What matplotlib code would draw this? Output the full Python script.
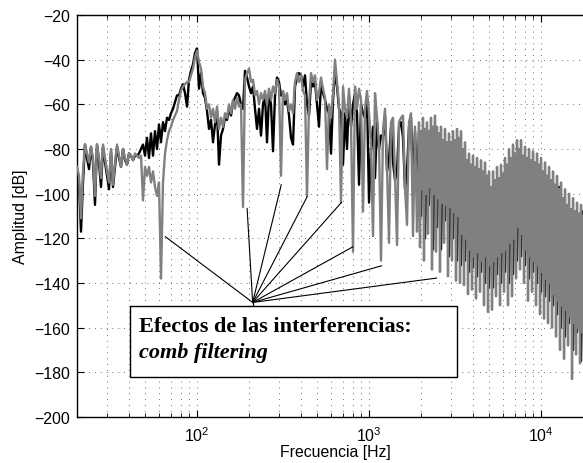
import numpy as np
import matplotlib
matplotlib.use('Agg')
import matplotlib.pyplot as plt
from matplotlib.patches import Rectangle
from matplotlib.ticker import LogLocator, NullFormatter

plt.rcParams['font.family'] = ['Liberation Sans', 'DejaVu Sans']
plt.rcParams['mathtext.fontset'] = 'custom'
plt.rcParams['mathtext.rm'] = 'Liberation Sans'

# frequency grids of the spectra (Hz), log-spaced like the measurement bins;
# the grey one is sampled twice as finely above ~1.9 kHz where it gets dense
black_freq = np.geomspace(20, 17500, 254)
grey_freq = np.concatenate([np.geomspace(20, 1896, 171), np.geomspace(1921, 17500, 166)])

# grey spectrum (dB)
grey_db = [
    -88, -92, -111, -90, -78, -82, -86, -79, -84, -101,
    -78, -84, -93, -78, -84, -90, -95, -80, -96, -86,
    -78, -83, -88, -80, -84, -87, -82, -83, -85, -82,
    -83, -84, -83, -103, -88, -92, -88, -95, -90, -97,
    -101, -95, -138, -95, -82, -76, -72, -70, -67, -65,
    -63, -58, -54, -52, -51, -50, -50, -47, -44, -39,
    -36, -41, -44, -52, -55, -62, -60, -66, -62, -68,
    -61, -71, -66, -70, -64, -66, -60, -64, -58, -62,
    -57, -61, -60, -106, -49, -46, -44, -50, -49, -56,
    -54, -60, -55, -58, -54, -60, -53, -58, -52, -55,
    -49, -52, -92, -54, -58, -55, -63, -60, -64, -50,
    -46, -50, -47, -54, -56, -101, -60, -46, -50, -47,
    -58, -55, -48, -53, -57, -89, -60, -66, -55, -40,
    -50, -60, -104, -52, -62, -66, -53, -68, -126, -52,
    -62, -53, -58, -108, -62, -54, -64, -78, -119, -55,
    -66, -78, -130, -72, -62, -88, -122, -68, -66, -92,
    -123, -68, -66, -65, -97, -114, -68, -64, -119, -70,
    -117,
    # dense part, finer grid
    -100, -68, -124, -72, -98, -66, -130, -71, -100, -68,
    -118, -72, -97, -66, -134, -70, -100, -65, -126, -70,
    -102, -73, -135, -70, -104, -76, -122, -71, -105, -77,
    -137, -73, -106, -77, -130, -72, -108, -76, -139, -71,
    -110, -75, -140, -72, -118, -80, -141, -77, -120, -85,
    -145, -82, -125, -87, -143, -83, -128, -88, -147, -84,
    -126, -89, -144, -85, -130, -90, -150, -86, -128, -92,
    -153, -90, -132, -97, -152, -90, -130, -94, -146, -88,
    -128, -93, -150, -87, -126, -91, -144, -84, -125, -87,
    -150, -80, -122, -84, -146, -78, -120, -82, -138, -76,
    -115, -80, -134, -76, -118, -83, -140, -79, -125, -84,
    -148, -80, -128, -85, -144, -81, -130, -86, -150, -82,
    -132, -87, -154, -84, -135, -90, -156, -86, -138, -92,
    -158, -88, -140, -94, -160, -90, -145, -96, -164, -92,
    -148, -98, -170, -95, -150, -102, -174, -98, -152, -105,
    -168, -100, -155, -107, -183, -102, -158, -108, -172, -104,
    -160, -109, -176, -105, -162, -110,
]

# black spectrum (dB)
black_db = [
    -90, -95, -117, -95, -78, -84, -89, -79, -86, -105,
    -78, -86, -97, -79, -86, -92, -98, -81, -97, -88,
    -79, -84, -88, -80, -85, -87, -82, -83, -85, -83,
    -83, -82, -80, -78, -83, -75, -84, -73, -83, -72,
    -80, -69, -77, -68, -72, -66, -67, -64, -62, -59,
    -56, -56, -53, -51, -55, -61, -49, -45, -42, -37,
    -35, -53, -46, -55, -57, -63, -71, -67, -77, -69,
    -63, -87, -74, -71, -66, -67, -62, -65, -59, -57,
    -55, -56, -60, -62, -45, -48, -52, -55, -52, -62,
    -71, -62, -74, -60, -56, -77, -56, -60, -81, -56,
    -48, -50, -56, -56, -60, -58, -65, -75, -78, -52,
    -48, -46, -47, -52, -47, -60, -65, -50, -52, -50,
    -60, -70, -50, -55, -58, -62, -64, -82, -58, -45,
    -52, -62, -64, -87, -64, -80, -56, -70, -60, -55,
    -64, -96, -60, -64, -66, -57, -104, -80, -70, -93,
    -68, -80, -74, -74, -65, -90, -85, -70, -86, -94,
    -90, -70, -68, -75, -98, -90, -70, -66, -95, -72,
    -100, -72, -110, -73, -120, -74, -105, -71, -125, -72,
    -115, -76, -125, -78, -112, -77, -128, -79, -120, -78,
    -130, -77, -132, -82, -130, -87, -135, -88, -133, -89,
    -137, -90, -135, -91, -140, -92, -142, -100, -142, -95,
    -136, -94, -140, -92, -135, -88, -140, -85, -136, -83,
    -130, -81, -128, -84, -132, -85, -138, -86, -135, -87,
    -140, -88, -144, -91, -146, -92, -148, -94, -150, -96,
    -154, -97, -160, -103, -164, -106, -158, -107, -170, -108,
    -162, -109, -175, -108,
]

# comb-filtering notches pointed at by the annotation
note_origin = (210, -148.7)
notch_f = [65.4, 195, 308, 436, 690, 803, 1179, 2461]
notch_db = [-119.3, -106.6, -96.0, -101.3, -103.9, -123.8, -132.3, -137.8]

fig = plt.figure(figsize=(5.83, 4.64), dpi=100)
ax = fig.add_axes([77/583, 46/464, 516/583, 402/464])

ax.semilogx(black_freq, black_db, color='black', lw=1.7, zorder=2)
ax.semilogx(grey_freq, grey_db, color='#808080', lw=1.7, zorder=3)

for f, d in zip(notch_f, notch_db):
    ax.plot([note_origin[0], f], [note_origin[1], d], color='black', lw=0.8, zorder=4)
ax.plot([note_origin[0], note_origin[0]], [note_origin[1], -150.5], color='black', lw=0.8, zorder=4)

ax.set_xlim(20, 20000)
ax.set_ylim(-200, -20)
ax.set_yticks(np.arange(-200, -19, 20))
ax.xaxis.set_minor_locator(LogLocator(base=10, subs=np.arange(2, 10)))
ax.xaxis.set_minor_formatter(NullFormatter())

dots = (0, (1, 6))
ax.grid(True, which='major', axis='both', color='0.25', lw=0.6, linestyle=dots)
ax.grid(True, which='minor', axis='x', color='0.25', lw=0.6, linestyle=dots)
ax.set_axisbelow(True)

ax.tick_params(which='both', direction='in', top=True, right=True, labelsize=11.4)
ax.tick_params(which='major', length=5, width=0.8)
ax.tick_params(which='minor', length=3, width=0.6)
ax.tick_params(axis='y', pad=5)
ax.tick_params(axis='x', pad=6)
for s in ax.spines.values():
    s.set_linewidth(1.0)

ax.set_xlabel('Frecuencia [Hz]', fontsize=11.4)
ax.set_ylabel('Amplitud [dB]', fontsize=11.4)
ax.xaxis.set_label_coords(0.5, -0.068)
ax.yaxis.set_label_coords(-0.095, 0.5)

ax.add_patch(Rectangle((0.1027, 0.1002), 0.6337, 0.175, transform=ax.transAxes,
                       facecolor='white', edgecolor='black', lw=1.0, zorder=5))
ax.text(0.1202, 0.2147, 'Efectos de las interferencias:', transform=ax.transAxes,
        family='Liberation Serif', weight='bold', fontsize=16, va='baseline', zorder=6)
ax.text(0.1202, 0.1485, 'comb filtering', transform=ax.transAxes,
        family='Liberation Serif', weight='bold', style='italic', fontsize=16,
        va='baseline', zorder=6)

plt.savefig('out.png', dpi=100)
